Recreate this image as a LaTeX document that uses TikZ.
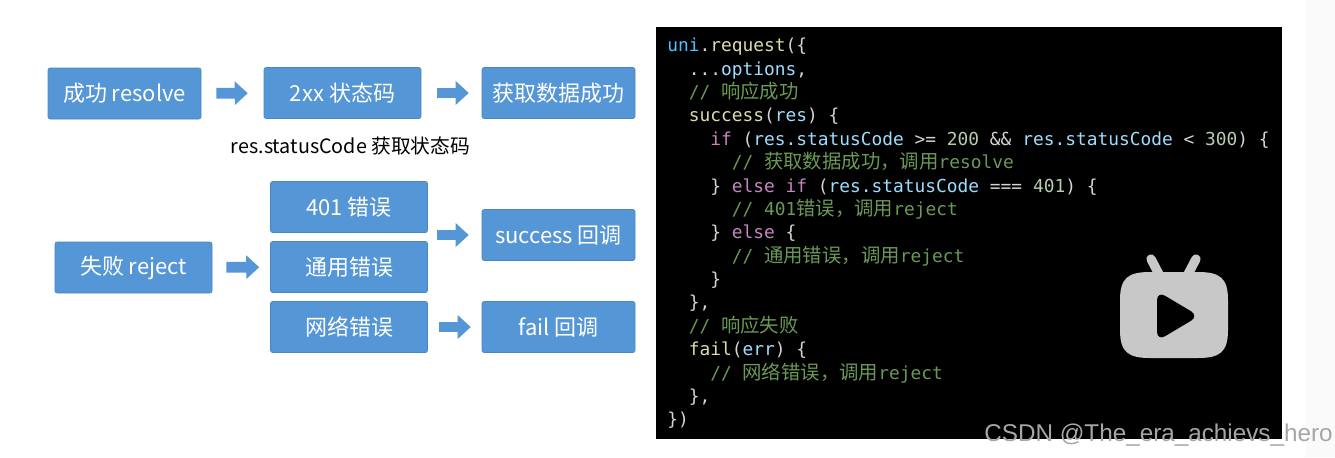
\documentclass[tikz,border=0pt]{standalone}
\usepackage{fontspec}
\usepackage{xcolor}
\setmainfont{Noto Sans CJK SC}
\setmonofont{DejaVu Sans Mono}
\newfontfamily\zhfont[Scale=1.085]{Noto Sans CJK SC}
\newfontfamily\markfont{Liberation Sans}
\usetikzlibrary{arrows.meta}

\definecolor{boxblue}{HTML}{5596D6}
\definecolor{boxedge}{HTML}{4A86C4}
\definecolor{codetext}{HTML}{D4D4D4}
\definecolor{codevar}{HTML}{9CDCFE}
\definecolor{codeobj}{HTML}{4FC1FF}
\definecolor{codefn}{HTML}{DCDCAA}
\definecolor{codekw}{HTML}{C586C0}
\definecolor{codenum}{HTML}{B5CEA8}
\definecolor{codecmt}{HTML}{6A9955}
\definecolor{icongray}{HTML}{C8C8C8}
\definecolor{stripgray}{HTML}{FAFAFA}

\newdimen\chrw \chrw=8.07pt
\newcommand\idt[1]{\hspace*{#1\chrw}}
\newcommand\zh[1]{{\zhfont #1}}
\newcommand\cvar[1]{\textcolor{codevar}{#1}}
\newcommand\cfn[1]{\textcolor{codefn}{#1}}
\newcommand\ckw[1]{\textcolor{codekw}{#1}}
\newcommand\cnum[1]{\textcolor{codenum}{#1}}
\newcommand\ccmt[1]{\textcolor{codecmt}{#1}}

\tikzset{
    flowbox/.style={draw=boxedge, fill=boxblue, rounded corners=1.5pt, text=white, inner sep=0pt,
        minimum width=153*0.75pt, minimum height=51*0.75pt, font=\fontsize{16.5pt}{19pt}\selectfont},
    widebox/.style={flowbox, minimum width=157*0.75pt},
    flowarrow/.style={-{Triangle[length=9.75pt,width=17.25pt]}, line width=8pt, draw=boxblue},
    codeblock/.style={anchor=north west, inner sep=0pt, align=left, text=codetext,
        font=\ttfamily\fontsize{13.4pt}{17.53pt}\selectfont},
}

\begin{document}
\begin{tikzpicture}[x=0.75pt,y=-0.75pt]
    \useasboundingbox (0,0) rectangle (1335,457);
    \fill[white] (0,0) rectangle (1335,457);
    \fill[stripgray] (1306,0) rectangle (1335,457);

    %% success row
    \node[flowbox] (resolve) at (124.5,93.5) {成功 resolve};
    \node[widebox] (status) at (342.5,93) {2xx 状态码};
    \node[flowbox] (fetched) at (558.5,93) {获取数据成功};
    \node[font=\fontsize{14.8pt}{17pt}\selectfont] (statuslabel) at (350.5,146) {res.statusCode 获取状态码};

    %% failure rows
    \node[widebox] (reject) at (133.5,267.5) {失败 reject};
    \node[widebox] (err401) at (349,207) {401 错误};
    \node[widebox] (errgeneral) at (349,267) {通用错误};
    \node[widebox] (errnet) at (349,327) {网络错误};
    \node[flowbox] (succb) at (558.5,235) {success 回调};
    \node[flowbox] (failcb) at (558.5,327) {fail 回调};
    \coordinate (errpair) at (428,235);

    %% block arrows
    \draw[flowarrow, shorten <=11.25pt, shorten >=12pt] (resolve) -- (status);
    \draw[flowarrow, shorten <=12pt, shorten >=9.75pt] (status) -- (fetched);
    \draw[flowarrow, shorten <=10.5pt, shorten >=8.25pt] (reject) -- (errgeneral);
    \draw[flowarrow, shorten <=6.75pt, shorten >=9.75pt] (errpair) -- (succb);
    \draw[flowarrow, shorten <=8.25pt, shorten >=8.25pt] (errnet) -- (failcb);

    %% code panel
    \fill[black] (656,27) rectangle (1282,439);
    \node[codeblock] (code) at (667,38) {%
        \textcolor{codeobj}{uni}.\cfn{request}(\{\\
        \idt{2}...\cvar{options},\\
        \idt{2}\ccmt{// \zh{响应成功}}\\
        \idt{2}\cfn{success}(\cvar{res}) \{\\
        \idt{4}\ckw{if} (\cvar{res.statusCode} >= \cnum{200} \&\& \cvar{res.statusCode} < \cnum{300}) \{\\
        \idt{6}\ccmt{// \zh{获取数据成功，调用}resolve}\\
        \idt{4}\} \ckw{else if} (\cvar{res.statusCode} === \cnum{401}) \{\\
        \idt{6}\ccmt{// 401\zh{错误，调用}reject}\\
        \idt{4}\} \ckw{else} \{\\
        \idt{6}\ccmt{// \zh{通用错误，调用}reject}\\
        \idt{4}\}\\
        \idt{2}\},\\
        \idt{2}\ccmt{// \zh{响应失败}}\\
        \idt{2}\cfn{fail}(\cvar{err}) \{\\
        \idt{4}\ccmt{// \zh{网络错误，调用}reject}\\
        \idt{2}\},\\
        \})};

    %% play icon
    \draw[icongray, line width=7pt, line cap=round] (1151,259) -- (1162,280);
    \draw[icongray, line width=7pt, line cap=round] (1196,259) -- (1185,280);
    \fill[icongray] (1120,300) .. controls (1120,278) and (1128,272) .. (1150,272)
        -- (1198,272) .. controls (1220,272) and (1228,278) .. (1228,300)
        -- (1228,330) .. controls (1228,352) and (1220,358) .. (1198,358)
        -- (1150,358) .. controls (1128,358) and (1120,352) .. (1120,330) -- cycle;
    \fill[black, rounded corners=7pt] (1157,291) -- (1199,316) -- (1157,341) -- cycle;

    %% watermark
    \node[text=black!35, font=\markfont\fontsize{18.2pt}{22pt}\selectfont, anchor=east, inner sep=0pt] (mark) at (1333,435) {CSDN @The\_era\_achievs\_hero};
\end{tikzpicture}
\end{document}
